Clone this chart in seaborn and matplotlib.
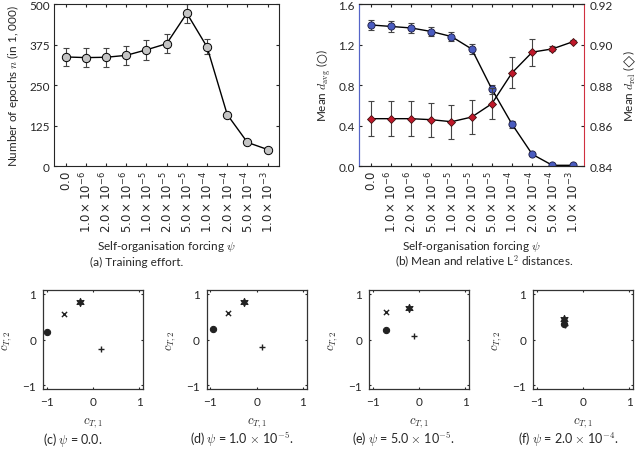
import numpy as np
import pandas as pd
import matplotlib
matplotlib.use('Agg')
import matplotlib.pyplot as plt
import seaborn as sns

# Self-organisation forcing values (tick labels)
psi_labels = ['$0.0$', '$1.0\\times10^{-6}$', '$2.0\\times10^{-6}$', '$5.0\\times10^{-6}$',
              '$1.0\\times10^{-5}$', '$2.0\\times10^{-5}$', '$5.0\\times10^{-5}$',
              '$1.0\\times10^{-4}$', '$2.0\\times10^{-4}$', '$5.0\\times10^{-4}$',
              '$1.0\\times10^{-3}$']

# (a) training effort
epochs = [337, 335, 336, 342, 359, 378, 472, 368, 159, 73, 51]
epochs_err = [29, 30, 30, 30, 31, 30, 30, 23, 4, 3, 3]

# (b) mean and relative distances
d_avg = [1.395, 1.38, 1.365, 1.33, 1.28, 1.157, 0.76, 0.413, 0.116, 0.007, 0.007]
d_avg_err = [0.05, 0.05, 0.045, 0.046, 0.043, 0.048, 0.045, 0.033, 0.01, 0.005, 0.005]
d_rel = [0.8634, 0.8634, 0.8634, 0.8629, 0.8619, 0.8642, 0.8708, 0.8861, 0.8963, 0.8979, 0.9014]
d_rel_err = [0.0086, 0.0088, 0.0087, 0.0084, 0.0083, 0.0084, 0.0078, 0.0077, 0.0067, 0.0012, 0.0007]

# (c)-(f) cluster centres: order = dot, cross, star, plus
kinds = ['dot', 'cross', 'star', 'plus']
c_x = {'c': [-0.99, -0.62, -0.29, 0.165],
       'd': [-0.95, -0.62, -0.28, 0.12],
       'e': [-0.71, -0.71, -0.22, -0.11],
       'f': [-0.41, -0.42, -0.42, -0.40]}
c_y = {'c': [0.17, 0.56, 0.81, -0.20],
       'd': [0.23, 0.59, 0.83, -0.17],
       'e': [0.21, 0.61, 0.70, 0.07],
       'f': [0.35, 0.40, 0.45, 0.32]}
captions = {'c': '(c) $\\psi$ = 0.0.',
            'd': '(d) $\\psi$ = 1.0 $\\times$ 10$^{-5}$.',
            'e': '(e) $\\psi$ = 5.0 $\\times$ 10$^{-5}$.',
            'f': '(f) $\\psi$ = 2.0 $\\times$ 10$^{-4}$.'}

sns.set_style('ticks', {'xtick.direction': 'in', 'ytick.direction': 'in'})
plt.rcParams['font.family'] = ['Lato', 'DejaVu Sans']
plt.rcParams['mathtext.fontset'] = 'cm'
plt.rcParams['font.size'] = 8
plt.rcParams['axes.linewidth'] = 0.8
plt.rcParams['xtick.major.size'] = 2.5
plt.rcParams['ytick.major.size'] = 2.5

fig = plt.figure(figsize=(6.4, 4.52), dpi=100)
x = np.arange(len(psi_labels))
err_kw = dict(fmt='none', ecolor='#444444', elinewidth=0.8, capsize=2.2, capthick=0.8)


def style_top(ax):
    ax.set_xlim(-0.58, 10.58)
    ax.set_xticks(x)
    ax.set_xticklabels(psi_labels, rotation=90, fontsize=8)
    for t in ax.get_xticklabels():
        t.set_math_fontfamily('dejavusans')
    ax.tick_params(top=True, labelsize=8.5, pad=3)
    ax.set_xlabel('Self-organisation forcing $\\psi$', fontsize=8.5, labelpad=4)


# (a)
ax1 = fig.add_axes([0.0844, 0.6305, 0.352, 0.358])
ax1.errorbar(x, epochs, yerr=epochs_err, **err_kw, zorder=2)
sns.lineplot(x=x, y=epochs, ax=ax1, color='black', lw=1.0, marker='o', markersize=6,
             markerfacecolor='#c4c4c4', markeredgecolor='black', markeredgewidth=0.7, zorder=3)
ax1.set_ylim(0, 500)
ax1.set_yticks([0, 125, 250, 375, 500])
ax1.tick_params(right=True)
style_top(ax1)
ax1.set_ylabel('Number of epochs $n$ (in 1, 000)', fontsize=8.5, labelpad=6)

# (b)
ax2 = fig.add_axes([0.561, 0.6305, 0.352, 0.358])
ax3 = ax2.twinx()
ax2.errorbar(x, d_avg, yerr=d_avg_err, **err_kw, zorder=2)
sns.lineplot(x=x, y=d_avg, ax=ax2, color='black', lw=1.0, marker='o', markersize=5.2,
             markerfacecolor='#4a5cc0', markeredgecolor='#1a1a40', markeredgewidth=0.6, zorder=3)
ax3.errorbar(x, d_rel, yerr=d_rel_err, **err_kw, zorder=2)
sns.lineplot(x=x, y=d_rel, ax=ax3, color='black', lw=1.0, marker='D', markersize=4.3,
             markerfacecolor='#c0182a', markeredgecolor='#401010', markeredgewidth=0.6, zorder=3)
ax2.set_ylim(0, 1.6)
ax2.set_yticks([0.0, 0.4, 0.8, 1.2, 1.6])
ax2.set_yticklabels(['0.0', '0.4', '0.8', '1.2', '1.6'])
ax3.set_ylim(0.84, 0.92)
ax3.set_yticks([0.84, 0.86, 0.88, 0.90, 0.92])
ax3.set_yticklabels(['0.84', '0.86', '0.88', '0.90', '0.92'])
ax3.tick_params(direction='in', labelsize=8.5, length=2.5)
ax2.spines['left'].set_color('#5565c8')
ax3.spines['left'].set_color('#5565c8')
ax3.spines['right'].set_color('#d03040')
ax2.spines['right'].set_visible(False)
ax3.spines['top'].set_visible(True)
style_top(ax2)
ax2.set_ylabel('Mean $d_{\\mathrm{avg}}$ ($○$)', fontsize=8.5)
ax3.set_ylabel('Mean $d_{\\mathrm{rel}}$ ($◇$)', fontsize=8.5, labelpad=6)

fig.text(0.214, 0.42, '(a) Training effort.', ha='center', va='center', fontsize=8.5)
fig.text(0.756, 0.42, '(b) Mean and relative L$^2$ distances.', ha='center', va='center', fontsize=8.5)

# (c)-(f)
lefts = {'c': 0.0672, 'd': 0.323, 'e': 0.577, 'f': 0.833}
cap_x = {'c': 0.113, 'd': 0.378, 'e': 0.630, 'f': 0.888}
markers = {'dot': 'o', 'cross': 'x', 'star': (6, 1, 0), 'plus': '+'}
sizes = {'dot': 20, 'cross': 14, 'star': 34, 'plus': 24}
for key in ['c', 'd', 'e', 'f']:
    ax = fig.add_axes([lefts[key], 0.137, 0.156, 0.219])
    df = pd.DataFrame({'c1': c_x[key], 'c2': c_y[key], 'kind': kinds})
    for k in kinds:
        sub = df[df['kind'] == k]
        if k in ('dot', 'star'):
            sns.scatterplot(data=sub, x='c1', y='c2', ax=ax, marker=markers[k], s=sizes[k],
                            color='#222222', edgecolor='#222222', linewidth=0.8, legend=False)
        else:
            sns.scatterplot(data=sub, x='c1', y='c2', ax=ax, marker=markers[k], s=sizes[k],
                            color='#222222', linewidth=1.0, legend=False)
    ax.set_xlim(-1.08, 1.08)
    ax.set_ylim(-1.08, 1.08)
    ax.set_xticks([-1, 0, 1])
    ax.set_yticks([-1, 0, 1])
    ax.set_xticklabels(['−1', '0', '1'])
    ax.set_yticklabels(['−1', '0', '1'])
    ax.tick_params(top=True, right=True, labelsize=8.5, length=1.5, pad=5)
    for s in ax.spines.values():
        s.set_linewidth(0.9)
        s.set_color('#333333')
    ax.set_xlabel('$c_{T,1}$', fontsize=9, labelpad=6)
    ax.set_ylabel('$c_{T,2}$', fontsize=9, labelpad=6)
    fig.text(cap_x[key], 0.027, captions[key], ha='center', va='center', fontsize=9)

fig.savefig('out.png', dpi=100)
